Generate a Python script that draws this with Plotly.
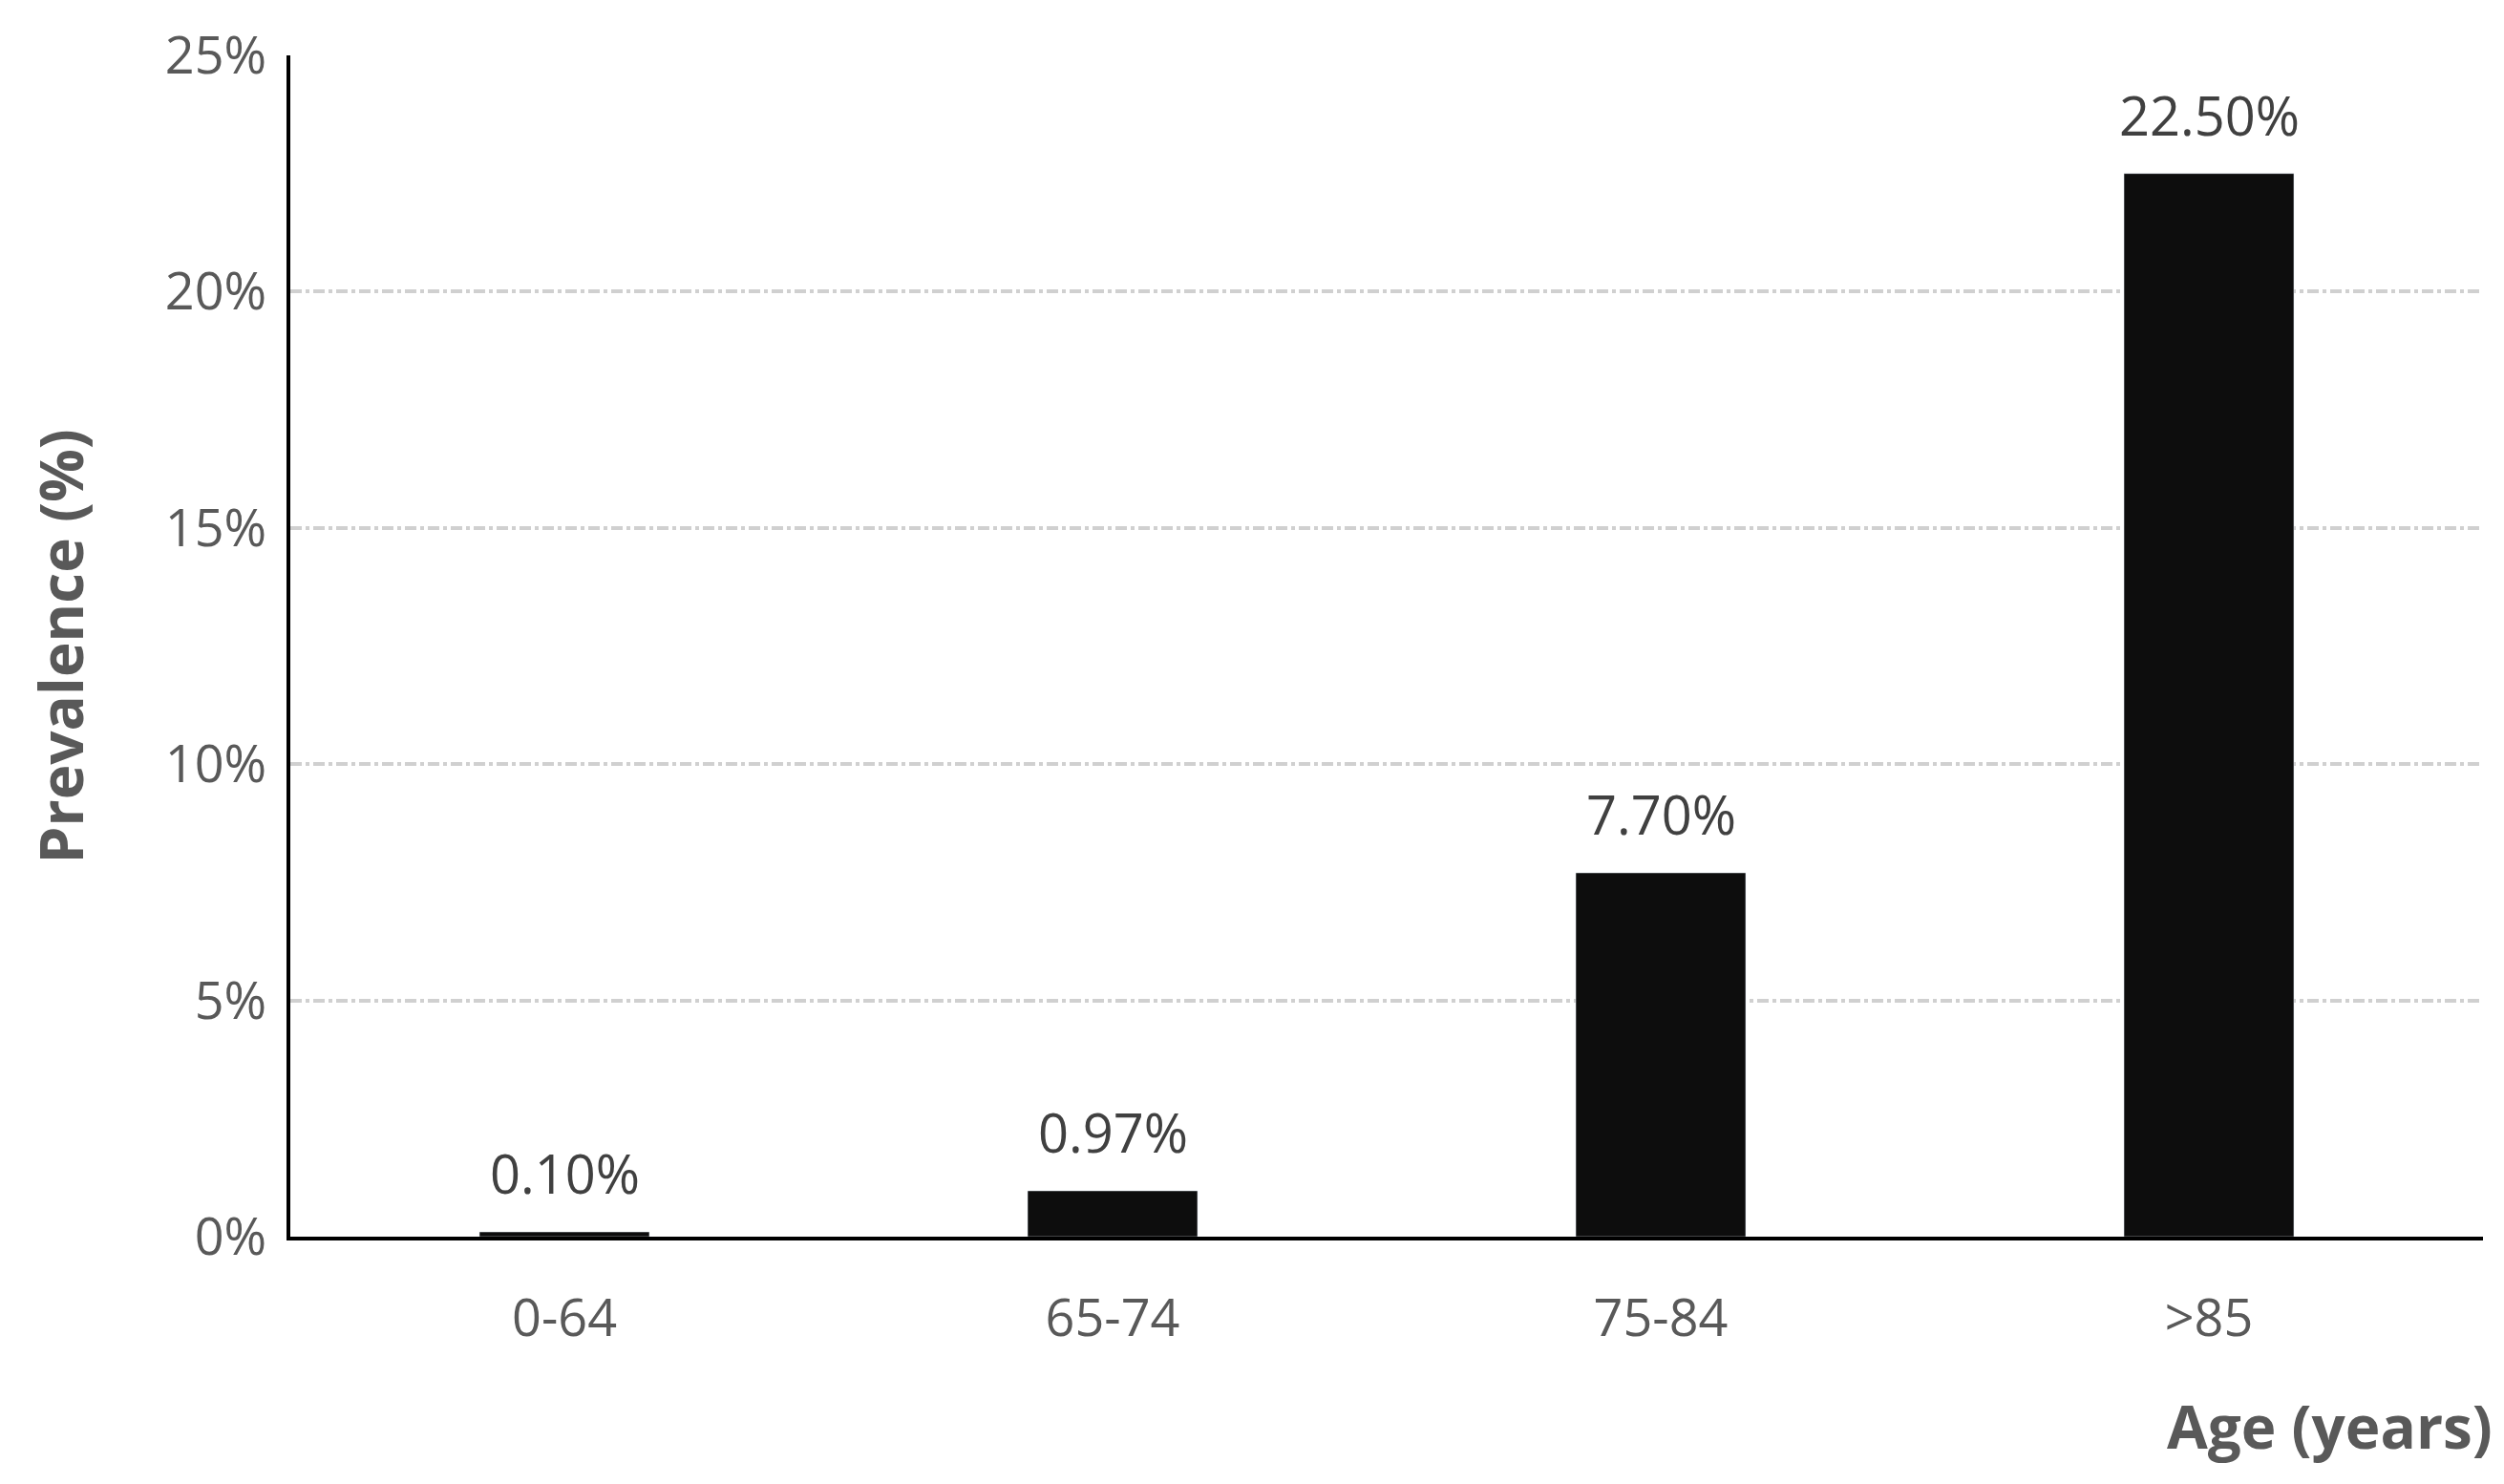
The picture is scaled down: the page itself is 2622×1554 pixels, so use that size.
import plotly.graph_objects as go

categories = ["0-64", "65-74", "75-84", ">85"]
values = [0.10, 0.97, 7.70, 22.50]
labels = ["0.10%", "0.97%", "7.70%", "22.50%"]

fig = go.Figure(go.Bar(
    x=categories, y=values, marker_color="#0d0d0d", width=0.31,
))
annos = [dict(x=c, y=v, text=t, xref="x", yref="y", showarrow=False, yanchor="bottom",
              yshift=22, font=dict(size=56, color="#404040"))
         for c, v, t in zip(categories, values, labels)]
annos += [
    dict(text="<b>Age (years)</b>", xref="paper", yref="paper", x=0.93, y=-0.16,
         xanchor="center", yanchor="middle", showarrow=False,
         font=dict(size=62, color="#595959")),
    dict(text="<b>Prevalence (%)</b>", xref="paper", yref="paper", x=-0.105, y=0.5,
         textangle=-90, xanchor="center", yanchor="middle", showarrow=False,
         font=dict(size=62, color="#595959")),
]
fig.update_layout(
    width=2622, height=1554, plot_bgcolor="white", paper_bgcolor="white",
    margin=dict(l=296, r=30, t=50, b=267),
    font=dict(family="Open Sans", color="#595959"),
    showlegend=False, annotations=annos,
)
fig.update_yaxes(range=[0, 25], tickvals=[0, 5, 10, 15, 20, 25],
                 ticktext=["0%", "5%", "10%", "15%", "20%", "25%"],
                 tickfont=dict(size=54, color="#595959"), showline=True, linecolor="black",
                 linewidth=4, gridcolor="#d0d0d0", griddash="dashdot", gridwidth=4,
                 zeroline=False, ticks="", ticklabelstandoff=10)
fig.update_xaxes(tickfont=dict(size=54, color="#595959"), showline=True, linecolor="black",
                 linewidth=4, ticks="", ticklabelstandoff=35)
fig.write_html("out.html")
